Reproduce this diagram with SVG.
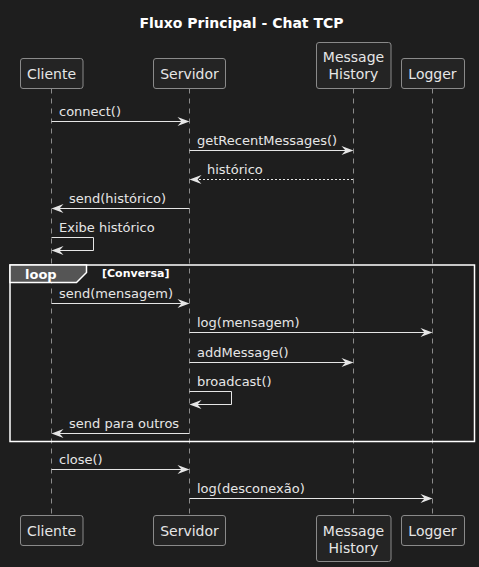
<svg xmlns="http://www.w3.org/2000/svg" width="479" height="567" viewBox="0 0 479 567">
<style>
.bg{fill:#1e1e1e}
.part rect{fill:#242424;stroke:#8a8a8a;stroke-width:1}
.pt{font-family:"DejaVu Sans",sans-serif;font-size:14px;fill:#e6e6e6;text-anchor:middle}
.life{stroke:#8a8a8a;stroke-width:1;stroke-dasharray:5,5}
.msg{stroke:#e6e6e6;stroke-width:1;fill:none}
.dash{stroke-dasharray:2,2}
.ml{font-family:"DejaVu Sans",sans-serif;font-size:13px;fill:#e6e6e6}
.ah{fill:#e6e6e6}
.title{font-family:"DejaVu Sans",sans-serif;font-size:14px;font-weight:bold;fill:#ffffff;text-anchor:middle}
</style>
<rect class="bg" x="0" y="0" width="479" height="567"/>
<text class="title" x="241.5" y="28">Fluxo Principal - Chat TCP</text>
<g id="lifelines">
<line class="life" x1="51.5" y1="88.5" x2="51.5" y2="515"/>
<line class="life" x1="189.5" y1="88.5" x2="189.5" y2="515"/>
<line class="life" x1="353.5" y1="88.5" x2="353.5" y2="515"/>
<line class="life" x1="432.5" y1="88.5" x2="432.5" y2="515"/>
</g>
<g id="loop">
<rect x="10" y="265" width="464.5" height="176.5" fill="none" stroke="#ffffff" stroke-width="1.5"/>
<polygon points="10,265 86.5,265 86.5,272.5 76.5,282.5 10,282.5" fill="#555555" stroke="#ffffff" stroke-width="1.5"/>
<text x="25" y="278.5" font-family="DejaVu Sans,sans-serif" font-size="13" font-weight="bold" fill="#ffffff">loop</text>
<text x="102" y="277" font-family="DejaVu Sans,sans-serif" font-size="11" font-weight="bold" fill="#ffffff">[Conversa]</text>
</g>
<g id="Cliente" class="part">
<rect x="20.5" y="58.5" width="62.5" height="30" rx="2.5"/>
<text class="pt" x="51.5" y="79">Cliente</text>
<rect x="20.5" y="515.5" width="62.5" height="30" rx="2.5"/>
<text class="pt" x="51.5" y="536">Cliente</text>
</g>
<g id="Servidor" class="part">
<rect x="153.5" y="58.5" width="72" height="30" rx="2.5"/>
<text class="pt" x="189.5" y="79">Servidor</text>
<rect x="153.5" y="515.5" width="72" height="30" rx="2.5"/>
<text class="pt" x="189.5" y="536">Servidor</text>
</g>
<g id="MessageHistory" class="part">
<rect x="316.5" y="42.5" width="74.5" height="46" rx="2.5"/>
<text class="pt" x="353.5" y="62">Message</text>
<text class="pt" x="353.5" y="79">History</text>
<rect x="316.5" y="515.5" width="74.5" height="46" rx="2.5"/>
<text class="pt" x="353.5" y="536">Message</text>
<text class="pt" x="353.5" y="553">History</text>
</g>
<g id="Logger" class="part">
<rect x="401.5" y="58.5" width="63" height="30" rx="2.5"/>
<text class="pt" x="432.5" y="79">Logger</text>
<rect x="401.5" y="515.5" width="63" height="30" rx="2.5"/>
<text class="pt" x="432.5" y="536">Logger</text>
</g>
<g id="connectors">
<line class="msg" x1="51.5" y1="121.5" x2="188" y2="121.5"/>
<polygon class="ah" points="189.5,121.5 177.5,117 181.5,121.5 177.5,126"/>
<text class="ml" x="59" y="116">connect()</text>

<line class="msg" x1="189.5" y1="150.5" x2="352" y2="150.5"/>
<polygon class="ah" points="353.5,150.5 341.5,146 345.5,150.5 341.5,155"/>
<text class="ml" x="197" y="145">getRecentMessages()</text>

<line class="msg dash" x1="191" y1="179.5" x2="353.5" y2="179.5"/>
<polygon class="ah" points="189.5,179.5 201.5,175 197.5,179.5 201.5,184"/>
<text class="ml" x="207" y="174">histórico</text>

<line class="msg" x1="53" y1="208.5" x2="189.5" y2="208.5"/>
<polygon class="ah" points="51.5,208.5 63.5,204 59.5,208.5 63.5,213"/>
<text class="ml" x="69" y="203">send(histórico)</text>

<polyline class="msg" points="51.5,237.5 93.5,237.5 93.5,250.5 53,250.5"/>
<polygon class="ah" points="51.5,250.5 63.5,246 59.5,250.5 63.5,255"/>
<text class="ml" x="59" y="232">Exibe histórico</text>

<line class="msg" x1="51.5" y1="303.5" x2="188" y2="303.5"/>
<polygon class="ah" points="189.5,303.5 177.5,299 181.5,303.5 177.5,308"/>
<text class="ml" x="59" y="298">send(mensagem)</text>

<line class="msg" x1="189.5" y1="332.5" x2="431" y2="332.5"/>
<polygon class="ah" points="432.5,332.5 420.5,328 424.5,332.5 420.5,337"/>
<text class="ml" x="197" y="327">log(mensagem)</text>

<line class="msg" x1="189.5" y1="362.5" x2="352" y2="362.5"/>
<polygon class="ah" points="353.5,362.5 341.5,358 345.5,362.5 341.5,367"/>
<text class="ml" x="197" y="357">addMessage()</text>

<polyline class="msg" points="189.5,391.5 231.5,391.5 231.5,404.5 191,404.5"/>
<polygon class="ah" points="189.5,404.5 201.5,400 197.5,404.5 201.5,409"/>
<text class="ml" x="197" y="386">broadcast()</text>

<line class="msg" x1="53" y1="433.5" x2="189.5" y2="433.5"/>
<polygon class="ah" points="51.5,433.5 63.5,429 59.5,433.5 63.5,438"/>
<text class="ml" x="69" y="428">send para outros</text>

<line class="msg" x1="51.5" y1="469.5" x2="188" y2="469.5"/>
<polygon class="ah" points="189.5,469.5 177.5,465 181.5,469.5 177.5,474"/>
<text class="ml" x="59" y="464">close()</text>

<line class="msg" x1="189.5" y1="498.5" x2="431" y2="498.5"/>
<polygon class="ah" points="432.5,498.5 420.5,494 424.5,498.5 420.5,503"/>
<text class="ml" x="197" y="493">log(desconexão)</text>
</g>
</svg>
